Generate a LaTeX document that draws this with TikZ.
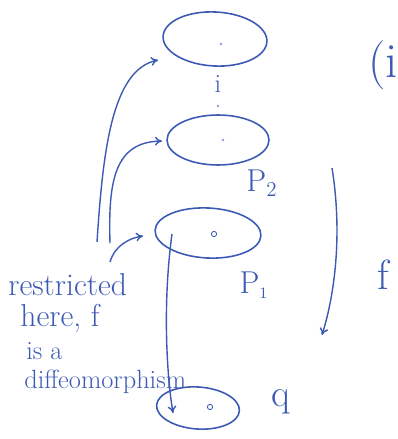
\documentclass[tikz,border=0pt]{standalone}
\usetikzlibrary{shapes.geometric,arrows.meta}
\definecolor{ink}{RGB}{60,90,180}
\begin{document}
\begin{tikzpicture}[x=0.02cm,y=-0.02cm,
  every node/.style={text=ink},
  blob/.style={draw=ink,ellipse,line width=0.9pt,inner sep=0pt},
  pt/.style={circle,draw=ink,fill=white,inner sep=0pt,minimum size=3pt,line width=0.5pt},
  tiny/.style={circle,fill=ink!60,inner sep=0pt,minimum size=1.5pt},
  conn/.style={draw=ink,line width=0.8pt,-{To[length=4pt,width=5pt]}},
  hand/.style={font=\fontsize{18}{20}\selectfont,inner sep=0pt,anchor=west},
  handsm/.style={font=\fontsize{15}{17}\selectfont,inner sep=0pt,anchor=west}]
\useasboundingbox (0,0) rectangle (398,439);
% ellipses
\node[blob,minimum width=2.08cm,minimum height=1.08cm,rotate=-3] (top) at (215,39) {};
\node[blob,minimum width=2.04cm,minimum height=1.0cm] (mid) at (218,140) {};
\node[blob,minimum width=2.12cm,minimum height=1.0cm,rotate=-3] (p1e) at (208,233) {};
\node[blob,minimum width=1.66cm,minimum height=0.84cm,rotate=-4] (qe) at (198,408) {};
% points
\node[tiny] (dtop) at (221,44) {};
\node[tiny] (dmid) at (223,140) {};
\node[pt] (dp1) at (214,234) {};
\node[pt] (qp) at (210,407) {};
\coordinate (sp1) at (172,234);
% labels
\node[font=\fontsize{15}{17}\selectfont] (ilab) at (218,84) {i};
\node[tiny] (idot) at (218,106) {};
\node[font=\fontsize{18}{20}\selectfont] (P2) at (262,183) {P$_2$};
\node[font=\fontsize{18}{20}\selectfont] (P1) at (254,285) {P$_{\scriptscriptstyle 1}$};
\node[font=\fontsize{22}{24}\selectfont] (q) at (281,402) {q};
\node[font=\fontsize{24}{26}\selectfont] (f) at (383,275) {f};
\node[font=\fontsize{28}{30}\selectfont,anchor=west,inner sep=0pt] (paren) at (368,65) {(i};
% text
\node[hand] (t1) at (8,285) {restricted};
\node[hand] (t2) at (20,318) {here, f};
\node[handsm] (t3) at (26,351) {is a};
\node[handsm] (t4) at (24,382) {diffeomorphism};
% connectors
\coordinate (a1) at (97,242);
\coordinate (a2) at (110,243);
\coordinate (a3) at (110,262);
\coordinate (ftop) at (332,168);
\coordinate (fbot) at (322,335);
\coordinate (qend) at (173,413);
\coordinate (topin) at (158,60);
\coordinate (midin) at (162,141);
\coordinate (p1in) at (143,236);
\draw[conn] (a1) .. controls (103,150) and (112,70) .. (topin);
\draw[conn] (a2) .. controls (108,180) and (115,142) .. (midin);
\draw[conn] (a3) .. controls (115,245) and (130,238) .. (p1in);
\draw[conn] (sp1) .. controls (163,300) and (166,370) .. (qend);
\draw[conn] (ftop) .. controls (342,230) and (336,290) .. (fbot);
\end{tikzpicture}
\end{document}
